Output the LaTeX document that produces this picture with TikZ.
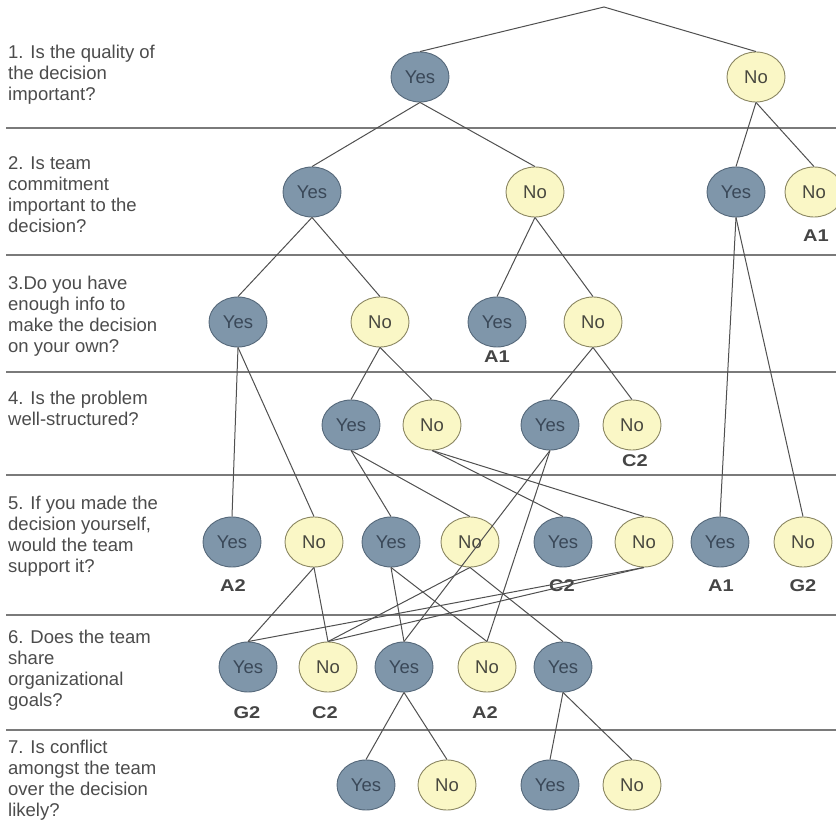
\documentclass[tikz,border=0pt]{standalone}
\usepackage{fontspec}
\usepackage{graphicx}
\setmainfont{Liberation Sans}
\usetikzlibrary{shapes.geometric}
\definecolor{yesfill}{HTML}{7F96AA}
\definecolor{yesdraw}{HTML}{55687A}
\definecolor{yestext}{HTML}{3A4858}
\definecolor{nofill}{HTML}{FAF7C6}
\definecolor{nodraw}{HTML}{8A8662}
\definecolor{notext}{HTML}{48483F}
\definecolor{linecol}{HTML}{505050}
\definecolor{sepcol}{HTML}{7A7A7A}
\definecolor{qtext}{HTML}{4C4C4C}
\definecolor{labtext}{HTML}{454545}
\newcommand{\lab}[1]{\scalebox{1.18}[1]{#1}}
\begin{document}
\begin{tikzpicture}[x=1pt,y=-1pt,
  yesnode/.style={ellipse, draw=yesdraw, line width=0.9pt, fill=yesfill, minimum width=58pt, minimum height=50pt, inner sep=0pt, text=yestext, font=\fontsize{18.5}{18.5}\selectfont},
  nonode/.style={ellipse, draw=nodraw, line width=0.9pt, fill=nofill, minimum width=58pt, minimum height=50pt, inner sep=0pt, text=notext, font=\fontsize{18.5}{18.5}\selectfont},
  leaf/.style={inner sep=0pt, text=labtext, font=\fontsize{17}{17}\selectfont\bfseries},
  question/.style={anchor=north west, align=left, inner sep=0pt, text=qtext, font=\fontsize{18.5}{21}\selectfont},
  sepline/.style={draw=sepcol, line width=1.8pt},
  conn/.style={draw=linecol, line width=1pt}]
\useasboundingbox (0,0) rectangle (836,821);
\clip (0,0) rectangle (836,821);
\fill[white] (0,0) rectangle (836,821);

% separators
\foreach \yy in {128,255,372,475,615,730} {\draw[sepline] (6,\yy) -- (836,\yy);}

% questions
\node[question] (q1) at (8,45) {1. Is the quality of\\the decision\\important?};
\node[question] (q2) at (8,156) {2. Is team\\commitment\\important to the\\decision?};
\node[question] (q3) at (8,276) {3.Do you have\\enough info to\\make the decision\\on your own?};
\node[question] (q4) at (8,391) {4. Is the problem\\well-structured?};
\node[question] (q5) at (8,496) {5. If you made the\\decision yourself,\\would the team\\support it?};
\node[question] (q6) at (8,630) {6. Does the team\\share\\organizational\\goals?};
\node[question] (q7) at (8,740) {7. Is conflict\\amongst the team\\over the decision\\likely?};

% nodes
\coordinate (apex) at (604,7);
\node[yesnode] (a1y) at (420,77) {Yes};
\node[nonode]  (a1n) at (756,77) {No};

\node[yesnode] (b1y) at (312,192) {Yes};
\node[nonode]  (b1n) at (535,192) {No};
\node[yesnode] (b2y) at (736,192) {Yes};
\node[nonode]  (b2n) at (814,192) {No};

\node[yesnode] (c1y) at (238,322) {Yes};
\node[nonode]  (c1n) at (380,322) {No};
\node[yesnode] (c2y) at (497,322) {Yes};
\node[nonode]  (c2n) at (593,322) {No};

\node[yesnode] (d1y) at (351,425) {Yes};
\node[nonode]  (d1n) at (432,425) {No};
\node[yesnode] (d2y) at (550,425) {Yes};
\node[nonode]  (d2n) at (632,425) {No};

\node[yesnode] (e1y) at (232,542) {Yes};
\node[nonode]  (e1n) at (314,542) {No};
\node[yesnode] (e2y) at (391,542) {Yes};
\node[nonode]  (e2n) at (470,542) {No};
\node[yesnode] (e3y) at (563,542) {Yes};
\node[nonode]  (e3n) at (644,542) {No};
\node[yesnode] (e4y) at (720,542) {Yes};
\node[nonode]  (e4n) at (803,542) {No};

\node[yesnode] (f1y) at (248,667) {Yes};
\node[nonode]  (f1n) at (328,667) {No};
\node[yesnode] (f2y) at (404,667) {Yes};
\node[nonode]  (f2n) at (487,667) {No};
\node[yesnode] (f3y) at (563,667) {Yes};

\node[yesnode] (g1y) at (366,785) {Yes};
\node[nonode]  (g1n) at (447,785) {No};
\node[yesnode] (g2y) at (550,785) {Yes};
\node[nonode]  (g2n) at (632,785) {No};

% leaf labels
\node[leaf] (l1) at (816,236) {\lab{A1}};
\node[leaf] (l2) at (497,357) {\lab{A1}};
\node[leaf] (l3) at (635,461) {\lab{C2}};
\node[leaf] (l4) at (233,586) {\lab{A2}};
\node[leaf] (l5) at (562,586) {\lab{C2}};
\node[leaf] (l6) at (721,586) {\lab{A1}};
\node[leaf] (l7) at (803,586) {\lab{G2}};
\node[leaf] (l8) at (247,713) {\lab{G2}};
\node[leaf] (l9) at (325,713) {\lab{C2}};
\node[leaf] (l10) at (485,713) {\lab{A2}};

% connectors
\draw[conn] (a1y.north) -- (apex) -- (a1n.north);
\draw[conn] (a1y.south) -- (b1y.north);
\draw[conn] (a1y.south) -- (b1n.north);
\draw[conn] (a1n.south) -- (b2y.north);
\draw[conn] (a1n.south) -- (b2n.north);
\draw[conn] (b1y.south) -- (c1y.north);
\draw[conn] (b1y.south) -- (c1n.north);
\draw[conn] (b1n.south) -- (c2y.north);
\draw[conn] (b1n.south) -- (c2n.north);
\draw[conn] (b2y.south) -- (e4y.north);
\draw[conn] (b2y.south) -- (e4n.north);
\draw[conn] (c1y.south) -- (e1y.north);
\draw[conn] (c1y.south) -- (e1n.north);
\draw[conn] (c1n.south) -- (d1y.north);
\draw[conn] (c1n.south) -- (d1n.north);
\draw[conn] (c2n.south) -- (d2y.north);
\draw[conn] (c2n.south) -- (d2n.north);
\draw[conn] (d1y.south) -- (e2y.north);
\draw[conn] (d1y.south) -- (e2n.north);
\draw[conn] (d1n.south) -- (e3y.north);
\draw[conn] (d1n.south) -- (e3n.north);
\draw[conn] (d2y.south) -- (f2y.north);
\draw[conn] (d2y.south) -- (f2n.north);
\draw[conn] (e1n.south) -- (f1y.north);
\draw[conn] (e1n.south) -- (f1n.north);
\draw[conn] (e2y.south) -- (f2y.north);
\draw[conn] (e2y.south) -- (f2n.north);
\draw[conn] (e2n.south) -- (f1n.north);
\draw[conn] (e2n.south) -- (f3y.north);
\draw[conn] (e3n.south) -- (f1y.north);
\draw[conn] (e3n.south) -- (f1n.north);
\draw[conn] (f2y.south) -- (g1y.north);
\draw[conn] (f2y.south) -- (g1n.north);
\draw[conn] (f3y.south) -- (g2y.north);
\draw[conn] (f3y.south) -- (g2n.north);
\end{tikzpicture}
\end{document}
